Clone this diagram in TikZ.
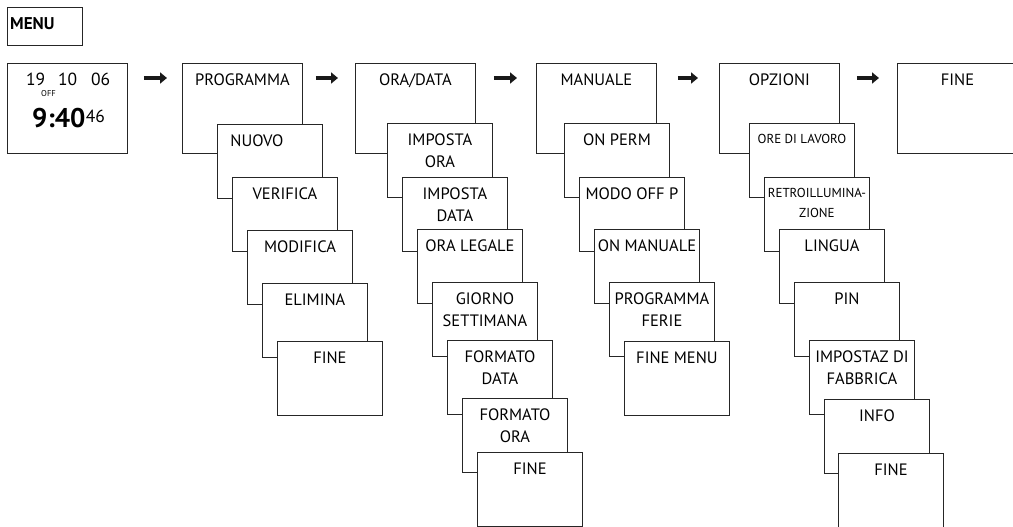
\documentclass[tikz,border=0pt]{standalone}
\usepackage{fontspec}
\setsansfont{PT Sans}
\usetikzlibrary{arrows.meta}

\begin{document}
\begin{tikzpicture}[x=1pt,y=-1pt,>={Triangle[length=7pt,width=11pt]},
        main node/.style={rectangle,draw=black!85,line width=0.9pt,fill=white,anchor=north west,
          inner sep=0pt,minimum width=120pt,minimum height=90pt},
        sub node/.style={main node,minimum width=105pt,minimum height=74pt},
        box text/.style={anchor=north,yshift=-11pt,inner sep=0pt,align=center,
          font=\sffamily\fontsize{16.5}{22}\selectfont},
        small text/.style={box text,font=\sffamily\fontsize{13}{21}\selectfont},
        menu text/.style={anchor=north west,inner sep=0pt,xshift=3pt,yshift=-10.5pt,
          font=\sffamily\bfseries\fontsize{17}{20}\selectfont},
        clock text/.style={anchor=base west,inner sep=0pt,font=\sffamily\fontsize{17.5}{20}\selectfont},
        next arrow/.style={->,line width=4.5pt,black!90}]
        \useasboundingbox (0,0) rectangle (1013,527);

        \node[main node,minimum width=75pt,minimum height=38pt,label={[menu text]north west:MENU}] (menu) at (7,7) {};

        % top row
        \node[main node] (0) at (7,63) {};
        \node[clock text] (day) at (26,86) {19};
        \node[clock text] (month) at (58,86) {10};
        \node[clock text] (year) at (91,86) {06};
        \node[clock text,font=\sffamily\fontsize{8.5}{10}\selectfont] (off) at (41,96) {OFF};
        \node[clock text,font=\sffamily\bfseries\fontsize{27}{30}\selectfont] (time) at (32,128) {9:40};
        \node[clock text] (sec) at ([yshift=6pt]time.base east) {46};
        \node[main node,label={[box text]north:PROGRAMMA}] (1) at (182,63) {};
        \node[main node,label={[box text]north:ORA/DATA}] (2) at (355,63) {};
        \node[main node,label={[box text]north:MANUALE}] (3) at (536,63) {};
        \node[main node,label={[box text]north:OPZIONI}] (4) at (719,63) {};
        \node[main node,label={[box text]north:FINE}] (5) at (897,63) {};

        \path[next arrow]
        ([yshift=-15pt]0.north east) edge[shorten <=16pt,shorten >=15pt] ([yshift=-15pt]1.north west)
        ([yshift=-15pt]1.north east) edge[shorten <=13pt,shorten >=17pt] ([yshift=-15pt]2.north west)
        ([yshift=-15pt]2.north east) edge[shorten <=18pt,shorten >=19pt] ([yshift=-15pt]3.north west)
        ([yshift=-15pt]3.north east) edge[shorten <=21pt,shorten >=21pt] ([yshift=-15pt]4.north west)
        ([yshift=-15pt]4.north east) edge[shorten <=17pt,shorten >=18pt] ([yshift=-15pt]5.north west)
        ;

        % PROGRAMMA
        \node[sub node,label={[box text,xshift=-13pt]north:NUOVO}] (1a) at (217,124) {};
        \node[sub node,label={[box text]north:VERIFICA}] (1b) at (232,177) {};
        \node[sub node,label={[box text]north:MODIFICA}] (1c) at (247,230) {};
        \node[sub node,label={[box text]north:ELIMINA}] (1d) at (262,283) {};
        \node[sub node,label={[box text]north:FINE}] (1e) at (277,341) {};

        % ORA/DATA
        \node[sub node,label={[box text]north:{IMPOSTA\\ORA}}] (2a) at (387,123) {};
        \node[sub node,label={[box text]north:{IMPOSTA\\DATA}}] (2b) at (402,177) {};
        \node[sub node,label={[box text]north:ORA LEGALE}] (2c) at (417,229) {};
        \node[sub node,label={[box text]north:{GIORNO\\SETTIMANA}}] (2d) at (432,282) {};
        \node[sub node,label={[box text]north:{FORMATO\\DATA}}] (2e) at (447,340) {};
        \node[sub node,label={[box text]north:{FORMATO\\ORA}}] (2f) at (462,398) {};
        \node[sub node,label={[box text]north:FINE}] (2g) at (477,452) {};

        % MANUALE
        \node[sub node,label={[box text]north:ON PERM}] (3a) at (564,123) {};
        \node[sub node,label={[box text]north:MODO OFF P}] (3b) at (579,177) {};
        \node[sub node,label={[box text]north:ON MANUALE}] (3c) at (594,229) {};
        \node[sub node,label={[box text]north:{PROGRAMMA\\FERIE}}] (3d) at (609,282) {};
        \node[sub node,label={[box text]north:FINE MENU}] (3e) at (624,341) {};

        % OPZIONI
        \node[sub node,label={[small text]north:ORE DI LAVORO}] (4a) at (749,123) {};
        \node[sub node,label={[small text,font=\sffamily\fontsize{13}{20}\selectfont]north:{RETROILLUMINA-\\ZIONE}}] (4b) at (764,177) {};
        \node[sub node,label={[box text]north:LINGUA}] (4c) at (779,229) {};
        \node[sub node,label={[box text]north:PIN}] (4d) at (794,282) {};
        \node[sub node,label={[box text]north:{IMPOSTAZ DI\\FABBRICA}}] (4e) at (809,340) {};
        \node[sub node,label={[box text]north:INFO}] (4f) at (824,399) {};
        \node[sub node,label={[box text]north:FINE}] (4g) at (838,453) {};
\end{tikzpicture}
\end{document}
